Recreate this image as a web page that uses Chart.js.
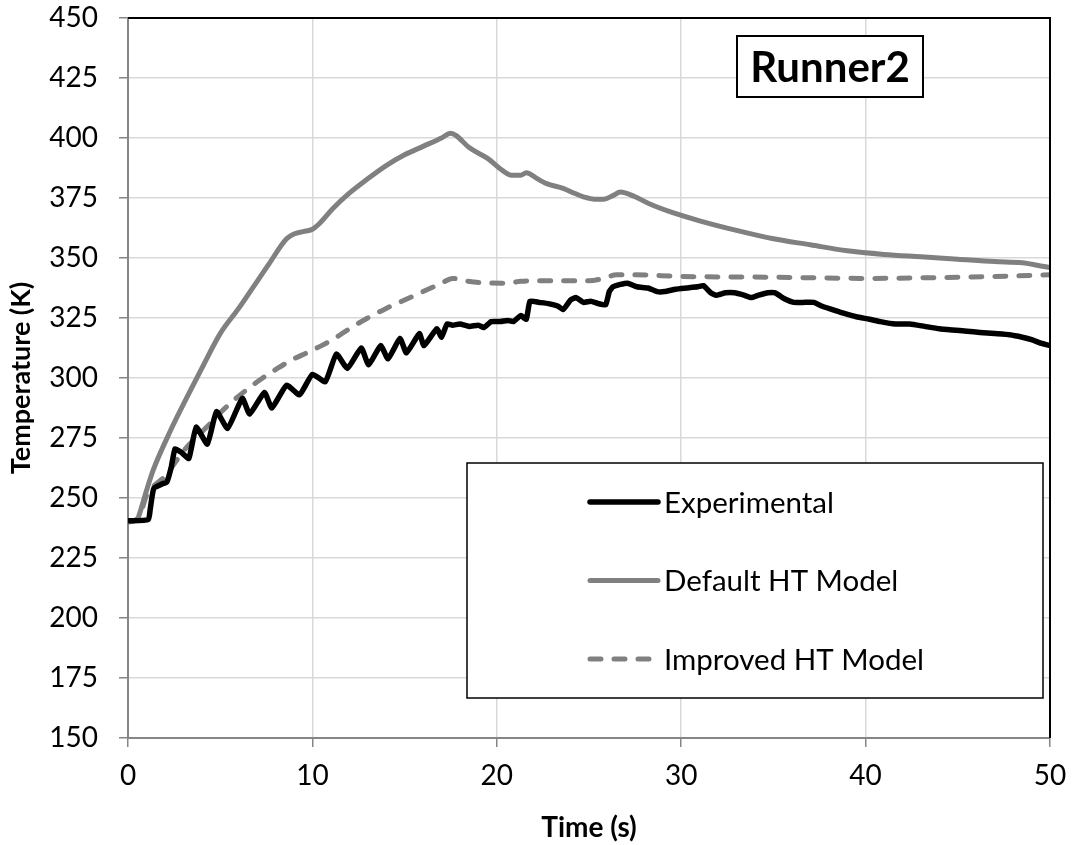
<!DOCTYPE html>
<html>
<head>
<meta charset="utf-8">
<script src="https://cdn.jsdelivr.net/npm/chart.js@4"></script>
<style>
  body { margin: 0; background: #fff; }
  #wrap { width: 1076px; height: 845px; }
</style>
</head>
<body>
<div id="wrap"><canvas id="chart"></canvas></div>
<script>
// Experimental (thermocouple) readings
const expTime = [0, 1.1, 1.2, 1.4, 1.9, 2.1, 2.35, 2.55, 2.9, 3.3, 3.7, 4.3, 4.8, 5.4, 6.2, 6.6, 7.4, 7.8, 8.6, 9.3,
  10.0, 10.7, 11.3, 11.9, 12.65, 13.05, 13.7, 14.1, 14.75, 15.1, 15.8, 16.05, 16.75, 17.0, 17.3, 17.6, 18.0, 18.5, 19.0, 19.3,
  19.7, 20.2, 20.6, 20.9, 21.3, 21.6, 21.8, 22.3, 22.8, 23.3, 23.6, 24.0, 24.3, 24.7, 25.1, 25.5, 25.9, 26.1, 26.3, 26.7,
  27.1, 27.6, 28.2, 28.7, 29.1, 29.7, 30.3, 30.9, 31.2, 31.6, 31.9, 32.4, 32.9, 33.4, 33.8, 34.2, 34.7, 35.1, 35.6, 36.1,
  36.6, 37.2, 37.6, 38.2, 38.8, 39.5, 40.2, 40.8, 41.6, 42.4, 43.2, 44.0, 44.7, 45.5, 46.2, 47.0, 47.8, 48.5, 49.0, 49.5, 50]
const expTemp = [240.5, 241, 245, 254, 256, 256.5, 263, 270.5, 269, 266.5, 279.5, 272.5, 286, 279, 291.5, 285, 294, 287.5, 297, 293,
  301.5, 298.5, 310, 304, 312.5, 305.5, 313.5, 308, 316.5, 310.5, 318.5, 313.5, 320.5, 317, 322.5, 322, 322.5, 321.5, 322, 321,
  323.5, 323.5, 324, 323.5, 326, 324.5, 332, 331.5, 331, 330, 328.5, 332.5, 333.5, 331.5, 332, 331, 330.5, 336, 338, 339,
  339.5, 338, 337.5, 336, 336, 337, 337.5, 338, 338.5, 335.5, 334.5, 335.5, 335.5, 334.5, 333.5, 334.5, 335.5, 335.5, 333, 331.5,
  331.5, 331.5, 330, 328.5, 327, 325.5, 324.5, 323.5, 322.5, 322.5, 321.5, 320.5, 320, 319.5, 319, 318.5, 318, 317, 316, 314.5, 313.5]

// Default HT model
const defTime = [0, 0.5, 0.65, 1.0, 1.36, 2.3, 3.2, 4.0, 5.0, 6.0, 6.8, 7.6, 8.6, 9.0, 9.5, 10.0, 10.4, 11.1, 12.0, 13.0,
  14.0, 15.0, 16.0, 17.0, 17.5, 17.8, 18.5, 19.5, 20.3, 20.8, 21.3, 21.6, 22.2, 22.7, 23.6, 24.2, 24.7, 25.3, 25.8, 26.3,
  26.7, 27.5, 28.3, 29.5, 31.0, 33.0, 35.0, 37.0, 39.0, 41.0, 43.0, 45.0, 47.0, 48.5, 49.3, 50]
const defTemp = [240, 241, 244, 253, 261.5, 278, 292, 304, 318.5, 329, 338, 347, 358, 360, 361, 362, 364.5, 370.5, 377, 383,
  388.5, 393, 396.5, 400, 402, 401, 396, 391.5, 386.5, 384.5, 384.5, 385.5, 383, 381, 379, 377, 375.5, 374.5, 374.5, 376,
  377.5, 375.5, 372.5, 369, 365.5, 361.5, 358, 355.5, 353, 351.5, 350.5, 349.5, 348.5, 348, 347, 346]

// Improved HT model
const impTime = [0, 0.6, 1.0, 1.4, 2.0, 2.3, 3.0, 4.0, 4.45, 5.0, 5.7, 6.5, 7.3, 8.1, 9.0, 9.7, 10.5, 11.1, 12.0, 13.0,
  14.0, 15.0, 16.0, 17.0, 17.6, 18.3, 19.2, 20.5, 21.3, 22.0, 24.0, 25.0, 25.8, 26.5, 27.5, 30, 35, 40, 45, 48, 50]
const impTemp = [240, 242, 251, 255, 259, 262, 269.5, 277.5, 281, 285.5, 290.5, 295.5, 300, 304, 308, 310.5, 313.5, 316, 320.5, 325,
  329, 332.5, 336, 339.5, 341.5, 340.5, 339.7, 339.5, 340.3, 340.5, 340.5, 340.5, 341.5, 343, 343, 342.3, 342, 341.5, 342, 342.5, 343]

const seriesNames = ['Experimental', 'Default HT Model', 'Improved HT Model']
const xTicks = [0, 10, 20, 30, 40, 50]
const yRange = [150, 450]
const boxTitle = 'Runner2'

const toPoints = (xs, ys) => xs.map((x, i) => ({ x, y: ys[i] }))
const FONT = 'Lato, "Open Sans", sans-serif'

// frame, title box and legend drawn on top of the plot
const overlay = {
  id: 'overlay',
  afterDraw(chart) {
    const { ctx, chartArea: a } = chart
    ctx.save()
    ctx.strokeStyle = '#000'
    ctx.lineWidth = 2
    ctx.beginPath()
    ctx.moveTo(a.left, a.top)
    ctx.lineTo(a.right, a.top)
    ctx.lineTo(a.right, a.bottom)
    ctx.stroke()

    // title box
    ctx.fillStyle = '#fff'
    ctx.fillRect(737, 36, 186, 61)
    ctx.strokeRect(737, 36, 186, 61)
    ctx.fillStyle = '#000'
    ctx.font = 'bold 42px ' + FONT
    ctx.textAlign = 'center'
    ctx.textBaseline = 'middle'
    ctx.fillText(boxTitle, 830, 68)

    // legend
    ctx.fillStyle = '#fff'
    ctx.fillRect(467, 463, 576, 235)
    ctx.strokeStyle = '#000'
    ctx.lineWidth = 1.5
    ctx.strokeRect(467, 463, 576, 235)
    ctx.font = '29.5px ' + FONT
    ctx.textAlign = 'left'
    chart.data.datasets.forEach((ds, i) => {
      const y = 502 + i * 78.5
      ctx.strokeStyle = ds.borderColor
      ctx.lineWidth = ds.borderWidth
      ctx.lineCap = 'round'
      ctx.setLineDash(ds.borderDash || [])
      ctx.beginPath()
      ctx.moveTo(590, y)
      ctx.lineTo(658, y)
      ctx.stroke()
      ctx.setLineDash([])
      ctx.fillStyle = '#000'
      ctx.fillText(ds.label, 664, y + 1)
    })
    ctx.restore()
  }
}

new Chart(document.getElementById('chart'), {
  type: 'line',
  data: {
    datasets: [
      { label: seriesNames[0], data: toPoints(expTime, expTemp), borderColor: '#000', borderWidth: 5.5, tension: 0.15, order: 1 },
      { label: seriesNames[1], data: toPoints(defTime, defTemp), borderColor: '#808080', borderWidth: 5, cubicInterpolationMode: 'monotone', order: 2 },
      { label: seriesNames[2], data: toPoints(impTime, impTemp), borderColor: '#808080', borderWidth: 5, borderDash: [11, 13], borderCapStyle: 'round', cubicInterpolationMode: 'monotone', order: 3 },
    ]
  },
  options: {
    responsive: true,
    maintainAspectRatio: false,
    animation: false,
    layout: { padding: { top: 18, right: 26, left: 0, bottom: 0 } },
    elements: { point: { radius: 0 } },
    plugins: { legend: { display: false }, tooltip: { enabled: false } },
    scales: {
      x: {
        type: 'linear',
        min: 0,
        max: 50,
        afterBuildTicks: s => { s.ticks = xTicks.map(v => ({ value: v })) },
        afterFit: s => { s.height = 107; s.paddingLeft = 0; s.paddingRight = 0 },
        grid: { color: '#d9d9d9', lineWidth: 1.5, tickColor: '#868686', tickLength: 9 },
        border: { color: '#868686', width: 2 },
        ticks: { color: '#000', font: { family: FONT, size: 28 }, padding: 12, maxRotation: 0 },
        title: { display: true, text: 'Time (s)', color: '#000', font: { family: FONT, size: 28, weight: 'bold' }, padding: { top: 0, bottom: 0 } }
      },
      y: {
        min: yRange[0],
        max: yRange[1],
        ticks: { stepSize: 25, color: '#000', font: { family: FONT, size: 28 }, padding: 21 },
        afterFit: s => { s.width = 128; s.paddingTop = 0; s.paddingBottom = 0 },
        grid: { color: '#d9d9d9', lineWidth: 1.5, tickColor: '#868686', tickLength: 9 },
        border: { color: '#868686', width: 2 },
        title: { display: true, text: 'Temperature (K)', color: '#000', font: { family: FONT, size: 27, weight: 'bold' }, padding: { top: 5, bottom: 0 } }
      }
    }
  },
  plugins: [overlay]
})
</script>
</body>
</html>
